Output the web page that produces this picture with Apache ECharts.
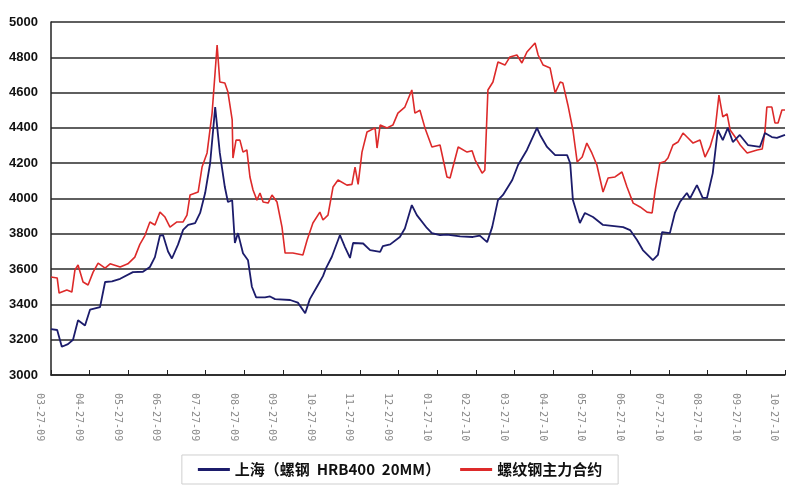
<!DOCTYPE html>
<html>
<head>
<meta charset="utf-8">
<script src="https://cdn.jsdelivr.net/npm/echarts@6/dist/echarts.min.js"></script>
<style>html,body{margin:0;padding:0;background:#fff;}#c{width:800px;height:500px;}</style>
</head>
<body>
<div id="c"></div>
<script>
// tick labels (one per month)
const monthLabels = ['03-27-09','04-27-09','05-27-09','06-27-09','07-27-09','08-27-09','09-27-09','10-27-09','11-27-09','12-27-09','01-27-10','02-27-10','03-27-10','04-27-10','05-27-10','06-27-10','07-27-10','08-27-10','09-27-10','10-27-10'];

// series names
const seriesNames = ['上海（螺钢  HRB400  20MM）', '螺纹钢主力合约'];

// Shanghai spot: x in months since 03-27-09, price
const shanghaiMonths = [0.00,0.16,0.28,0.44,0.57,0.70,0.88,1.01,1.27,1.40,1.58,1.79,2.12,2.38,2.56,2.69,2.82,2.90,3.03,3.13,3.29,3.42,3.55,3.73,3.86,3.99,4.12,4.25,4.37,4.50,4.58,4.69,4.76,4.84,4.97,5.10,5.20,5.31,5.54,5.67,5.80,6.19,6.39,6.58,6.70,6.91,7.04,7.12,7.27,7.48,7.61,7.74,7.82,8.08,8.26,8.52,8.59,8.78,9.03,9.16,9.34,9.47,9.73,9.86,10.07,10.25,10.59,10.92,11.10,11.29,11.42,11.57,11.70,11.94,12.09,12.32,12.58,12.66,12.84,13.05,13.36,13.44,13.51,13.69,13.82,14.03,14.29,14.81,14.99,15.17,15.32,15.58,15.71,15.82,16.02,16.15,16.28,16.46,16.54,16.72,16.87,16.98,17.13,17.26,17.39,17.52,17.65,17.83,18.04,18.35,18.48,18.66,18.79,19.00];
const shanghaiPrices = [3260,3255,3160,3175,3200,3310,3280,3370,3385,3527,3530,3545,3583,3585,3612,3668,3790,3793,3700,3660,3740,3822,3850,3860,3918,4031,4201,4518,4258,4065,3980,3990,3748,3804,3690,3650,3500,3440,3440,3445,3430,3425,3410,3350,3430,3510,3560,3606,3670,3793,3725,3663,3748,3745,3708,3697,3730,3740,3782,3830,3963,3906,3833,3804,3793,3795,3785,3782,3790,3753,3838,3991,4020,4105,4190,4275,4400,4360,4292,4246,4246,4200,3991,3861,3918,3895,3850,3838,3821,3765,3708,3651,3680,3810,3804,3918,3980,4031,4000,4076,4003,4003,4144,4388,4331,4400,4320,4360,4303,4292,4371,4348,4343,4360];

// Rebar main futures contract: x in months since 03-27-09, price
const futuresMonths = [0.00,0.16,0.21,0.41,0.54,0.62,0.70,0.83,0.96,1.09,1.22,1.40,1.53,1.79,1.99,2.17,2.30,2.43,2.56,2.69,2.82,2.95,3.08,3.26,3.42,3.52,3.60,3.81,3.91,4.04,4.17,4.30,4.37,4.50,4.58,4.69,4.71,4.79,4.89,4.97,5.07,5.15,5.23,5.33,5.41,5.49,5.62,5.72,5.85,5.98,6.06,6.26,6.52,6.63,6.78,6.96,7.04,7.17,7.30,7.43,7.66,7.79,7.87,7.95,8.05,8.18,8.39,8.44,8.52,8.70,8.85,8.98,9.16,9.34,9.42,9.55,9.68,9.86,10.07,10.25,10.33,10.54,10.77,10.90,10.98,11.16,11.23,11.31,11.44,11.57,11.75,11.88,12.06,12.19,12.32,12.53,12.61,12.74,12.92,13.05,13.18,13.25,13.38,13.51,13.62,13.75,13.87,14.00,14.13,14.29,14.42,14.60,14.78,14.91,15.07,15.25,15.43,15.56,15.64,15.76,15.89,15.97,16.10,16.23,16.36,16.49,16.62,16.80,16.93,17.06,17.19,17.29,17.39,17.50,17.58,17.71,17.84,18.02,18.28,18.41,18.48,18.53,18.66,18.74,18.82,18.92,19.00];
const futuresPrices = [3555,3550,3464,3481,3470,3595,3623,3527,3510,3583,3634,3606,3630,3612,3630,3668,3740,3790,3867,3850,3923,3895,3838,3867,3867,3906,4020,4037,4178,4258,4484,4870,4660,4654,4603,4445,4229,4331,4331,4263,4275,4122,4048,3991,4031,3980,3974,4020,3980,3838,3691,3691,3680,3765,3861,3923,3878,3906,4065,4105,4076,4080,4178,4080,4263,4377,4400,4286,4416,4400,4416,4484,4518,4615,4484,4500,4400,4292,4303,4122,4116,4292,4263,4270,4218,4144,4160,4615,4660,4773,4756,4802,4813,4768,4830,4881,4813,4756,4739,4598,4660,4654,4530,4388,4207,4235,4314,4258,4190,4037,4116,4122,4150,4065,3974,3952,3923,3918,4048,4201,4210,4229,4303,4320,4371,4343,4314,4331,4235,4292,4388,4586,4462,4480,4388,4348,4303,4258,4275,4280,4377,4518,4518,4428,4428,4501,4501];

function pairs(xs, ys) { return xs.map((x, i) => [x, ys[i]]); }

const chart = echarts.init(document.getElementById('c'), null, {renderer: 'canvas'});
chart.setOption({
  animation: false,
  backgroundColor: '#ffffff',
  grid: {left: 51, right: 15, top: 22, bottom: 125, containLabel: false},
  legend: {
    bottom: 16,
    left: 'center',
    itemWidth: 32,
    itemHeight: 3,
    itemGap: 20,
    icon: 'rect',
    padding: [7, 16, 7, 16],
    borderColor: '#cfcfcf',
    borderWidth: 1,
    textStyle: {fontFamily: 'Noto Sans CJK SC', fontWeight: 'bold', fontSize: 15, color: '#111'},
    data: seriesNames
  },
  xAxis: {
    type: 'value',
    min: 0, max: 19, interval: 1,
    axisLine: {show: true, lineStyle: {color: '#222', width: 1.5}},
    axisTick: {show: true, inside: true, length: 5, lineStyle: {color: '#222'}},
    splitLine: {show: false},
    axisLabel: {
      rotate: -90,
      margin: 18,
      verticalAlign: 'top',
      lineHeight: 22,
      fontFamily: 'DejaVu Sans Mono',
      fontSize: 10,
      color: '#8a8a8a',
      formatter: v => monthLabels[Math.round(v)] || ''
    }
  },
  yAxis: {
    type: 'value',
    min: 3000, max: 5000, interval: 200,
    axisLine: {show: true, lineStyle: {color: '#222', width: 1.5}},
    axisTick: {show: false},
    splitLine: {show: true, lineStyle: {color: '#2a2a2a', width: 1.5}},
    axisLabel: {
      margin: 13, fontFamily: 'Liberation Sans', fontWeight: 'bold', fontSize: 13, color: '#111',
      formatter: v => String(v)
    }
  },
  series: [
    {
      name: seriesNames[0], type: 'line', showSymbol: false, z: 3,
      data: pairs(shanghaiMonths, shanghaiPrices),
      lineStyle: {color: '#1c1c6b', width: 1.8},
      itemStyle: {color: '#1c1c6b'}
    },
    {
      name: seriesNames[1], type: 'line', showSymbol: false, z: 2,
      data: pairs(futuresMonths, futuresPrices),
      lineStyle: {color: '#dd2a2a', width: 1.6},
      itemStyle: {color: '#dd2a2a'}
    }
  ]
});
</script>
</body>
</html>
